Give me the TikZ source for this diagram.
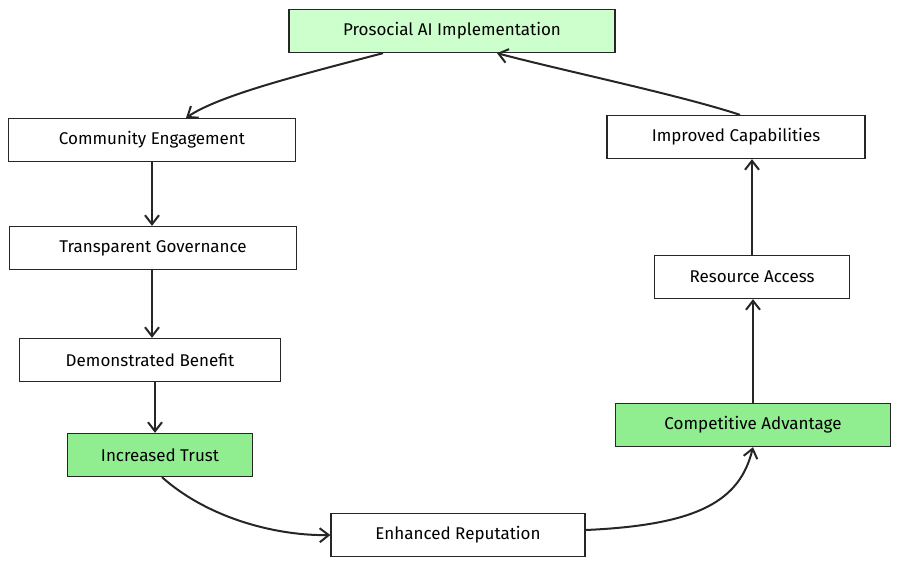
\documentclass[tikz,border=0pt]{standalone}
\usepackage{fontspec}
\setmainfont{Fira Sans}
\usetikzlibrary{arrows.meta}
\definecolor{lightgreen}{RGB}{204,255,204}
\definecolor{midgreen}{RGB}{144,238,144}
\tikzset{
  stage/.style={draw=black!85, fill=white, line width=1.3pt, minimum height=43pt, inner sep=0pt, font=\fontsize{17}{20}\selectfont},
  flow/.style={-{Straight Barb[length=9pt,width=14pt]}, line width=2pt, black!85}
}
\begin{document}
\begin{tikzpicture}[x=1pt,y=-1pt]
  \useasboundingbox (0,0) rectangle (901,568);
  \node[stage, fill=lightgreen, minimum width=326pt] (impl) at (452,31) {Prosocial AI Implementation};
  \node[stage, minimum width=287pt] (comm) at (152,140) {Community Engagement};
  \node[stage, minimum width=287pt] (gov) at (153,248) {Transparent Governance};
  \node[stage, minimum width=261pt] (ben) at (150,360) {Demonstrated Benefit};
  \node[stage, fill=midgreen, minimum width=185pt] (trust) at (160,455) {Increased Trust};
  \node[stage, minimum width=254pt] (rep) at (458,535) {Enhanced Reputation};
  \node[stage, fill=midgreen, minimum width=275pt] (adv) at (753,425) {Competitive Advantage};
  \node[stage, minimum width=195pt] (res) at (752,277) {Resource Access};
  \node[stage, minimum width=258pt] (cap) at (736,137) {Improved Capabilities};

  \draw[flow] ([xshift=-69pt]impl.south) .. controls (300,75) and (220,95) .. ([xshift=34pt]comm.north);
  \draw[flow] (comm.south) -- (comm.south |- gov.north);
  \draw[flow] ([xshift=-1pt]gov.south) -- ([xshift=-1pt]gov.south |- ben.north);
  \draw[flow] ([xshift=5pt]ben.south) -- ([xshift=5pt]ben.south |- trust.north);
  \draw[flow] ([xshift=2pt]trust.south) .. controls (210,520) and (280,536) .. (rep.west);
  \draw[flow] ([yshift=5pt]rep.east) .. controls (700,525) and (740,500) .. (adv.south);
  \draw[flow] (adv.north) -- (adv.north |- res.south);
  \draw[flow] (res.north) -- (res.north |- cap.south);
  \draw[flow] ([xshift=4pt]cap.north) .. controls (680,95) and (560,70) .. ([xshift=45pt]impl.south);
\end{tikzpicture}
\end{document}
